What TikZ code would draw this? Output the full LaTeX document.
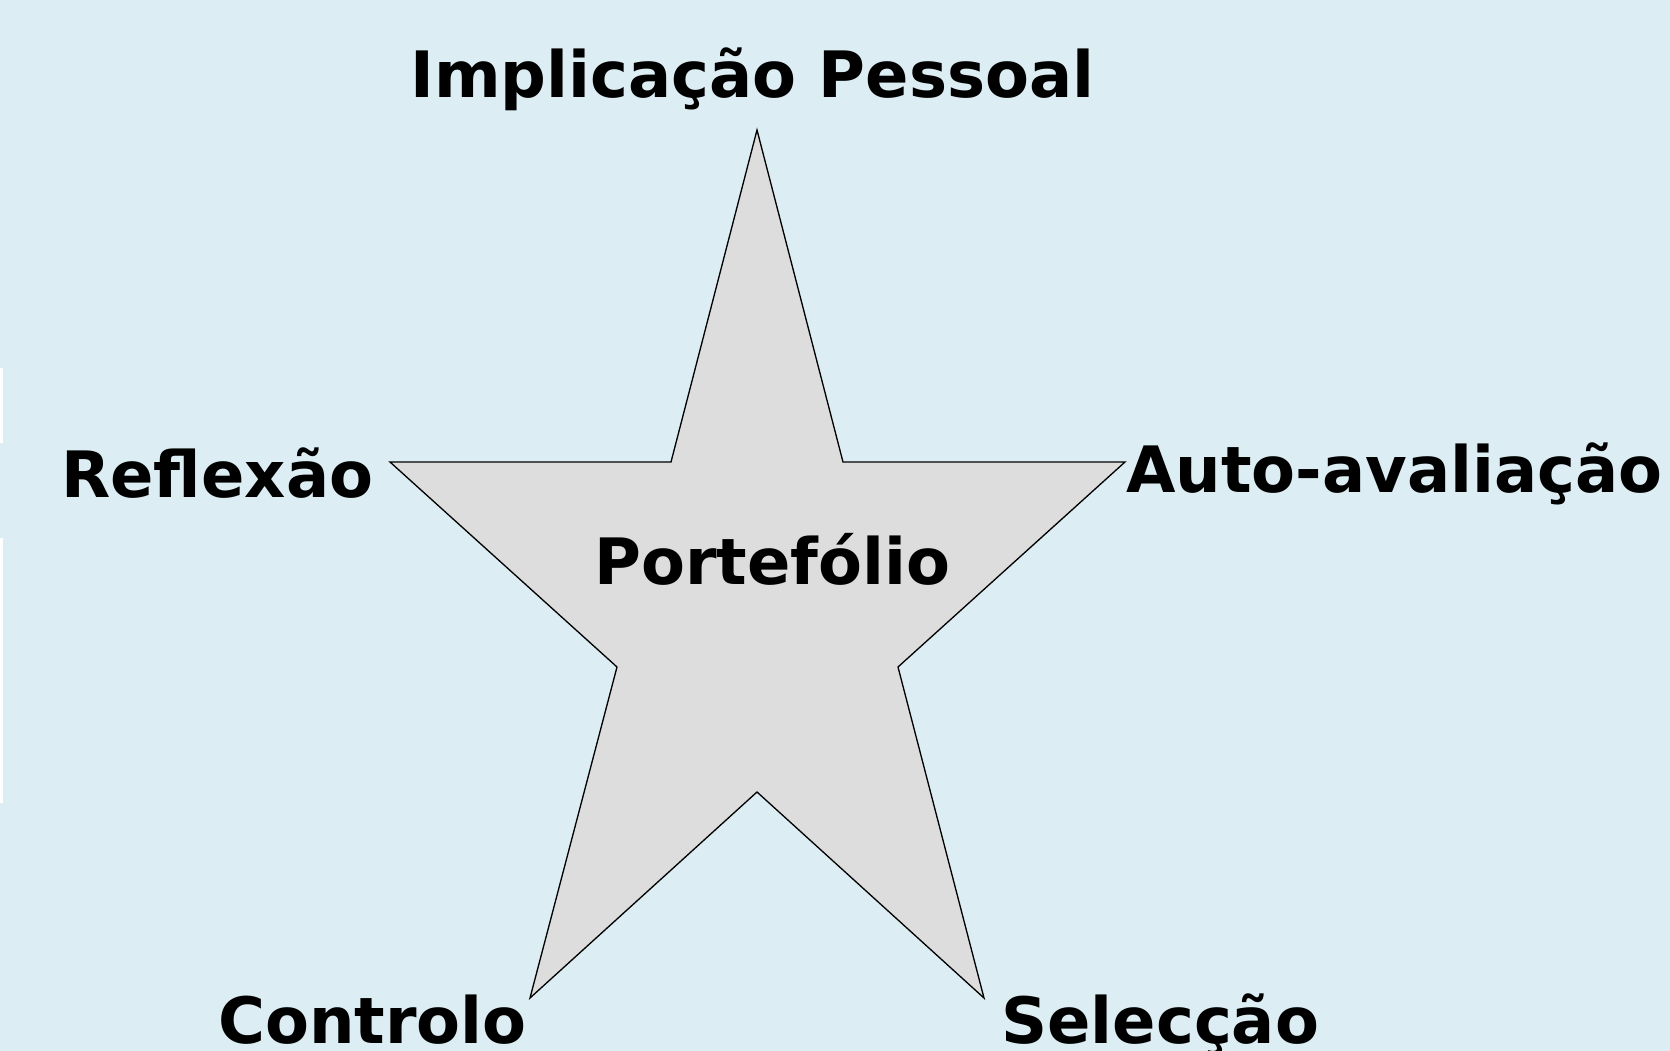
\documentclass[tikz,border=0pt]{standalone}
\usepackage{fontspec}
\setmainfont{DejaVu Sans}
\usepackage{tikz}
\definecolor{bgblue}{HTML}{DCEEF3}
\definecolor{stargray}{HTML}{DDDDDD}

\begin{document}
\begin{tikzpicture}
        [
        x=0.2mm, y=-0.2mm,
        label/.style={anchor=base west, inner sep=0pt, font=\fontsize{36.4}{42}\selectfont\bfseries},
        starfill/.style={draw=black, line width=0.75pt, fill=stargray}
        ]
        % Background
        \fill[bgblue] (0,0) rectangle (1670,1051);
        \useasboundingbox (0,0) rectangle (1670,1051);
        \fill[white] (0,368) rectangle (3,443);
        \fill[white] (0,538) rectangle (3,803);
        % Star
        \draw[starfill] (757,130) -- (843,462) -- (1125,462) -- (898,667) -- (984,998)
            -- (757,792) -- (530,998) -- (617,667) -- (390,462) -- (671,462) -- cycle;
        % Labels
        \node[label] (imp) at (410,98) {Implicação Pessoal};
        \node[label] (ref) at (61,498) {Reflexão};
        \node[label] (aut) at (1126,493) {Auto-avaliação};
        \node[label] (por) at (594,584) {Portefólio};
        \node[label] (con) at (218,1043) {Controlo};
        \node[label] (sel) at (1001,1043) {Selecção};
    \end{tikzpicture}
\end{document}
